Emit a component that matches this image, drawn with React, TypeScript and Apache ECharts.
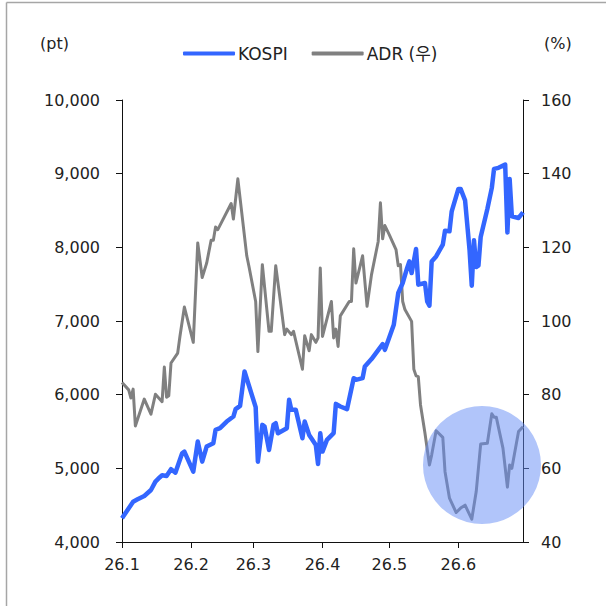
import React, { useEffect, useRef } from "react";
import * as echarts from "echarts";

// x positions are day offsets from 2026-01-01
const monthTickDays = [0, 31, 59, 90, 120, 151];
const monthTickLabels = ["26.1", "26.2", "26.3", "26.4", "26.5", "26.6"];

const kospiDays = [0, 5, 7, 10, 13, 15, 17, 18, 20, 22, 24, 27, 28, 32, 34, 36, 38, 41, 42, 44, 47, 50, 51, 53, 55, 60, 61, 63, 64, 66, 68, 69, 70, 74, 75, 76, 78, 81, 82, 84, 85, 87, 88, 89, 90, 92, 95, 96, 98, 101, 104, 105, 108, 109, 112, 117, 118, 122, 124, 126, 128, 129, 130, 132, 133, 136, 137, 138, 139, 141, 144, 145, 147, 148, 151, 152, 154, 156, 157, 158, 159, 160, 161, 164, 166, 167, 169, 172, 173, 174, 175, 178, 180];
const kospiValues = [4322, 4547, 4580, 4625, 4706, 4820, 4880, 4906, 4897, 4988, 4942, 5205, 5227, 4955, 5363, 5091, 5295, 5341, 5522, 5545, 5635, 5703, 5803, 5848, 6314, 5830, 5091, 5590, 5567, 5250, 5590, 5613, 5477, 5545, 5930, 5794, 5794, 5409, 5635, 5454, 5409, 5318, 5060, 5477, 5227, 5386, 5477, 5875, 5839, 5803, 6224, 6201, 6224, 6382, 6483, 6687, 6609, 6949, 7380, 7516, 7720, 7809, 7651, 7977, 7493, 7516, 7266, 7207, 7809, 7877, 8036, 8226, 8217, 8489, 8793, 8793, 8638, 7968, 7479, 8095, 7733, 7751, 8140, 8521, 8807, 9065, 9079, 9124, 8203, 8929, 8421, 8399, 8475];

const adrDays = [0, 3, 4, 5, 6, 10, 13, 15, 18, 19, 20, 21, 22, 25, 26, 28, 32, 34, 36, 38, 40, 41, 42, 43, 49, 50, 52, 56, 57, 60, 61, 63, 66, 67, 69, 71, 73, 74, 76, 77, 81, 82, 84, 85, 87, 88, 89, 90, 94, 95, 96, 97, 98, 102, 103, 104, 105, 108, 110, 112, 115, 116, 117, 118, 120, 123, 124, 125, 126, 127, 130, 131, 132, 133, 134, 136, 138, 139, 141, 144, 145, 147, 150, 152, 154, 157, 159, 161, 164, 166, 167, 168, 171, 173, 174, 175, 178, 180];
const adrValues = [83.3, 81.3, 79.1, 81.5, 71.5, 78.8, 74.7, 80.1, 78.1, 87.5, 79.3, 79.7, 88.6, 91.3, 95.8, 103.8, 94.2, 121.2, 111.8, 115.7, 121.9, 121.9, 125.5, 124.8, 131.9, 127.7, 138.6, 117.7, 114.8, 105.3, 91.7, 115.3, 97.2, 97.2, 115.0, 105.8, 96.3, 97.8, 96.3, 97.2, 86.9, 96.0, 91.9, 96.3, 94.2, 95.4, 114.4, 95.8, 105.3, 95.4, 97.8, 93.1, 101.4, 105.3, 105.3, 119.6, 110.3, 117.7, 104.0, 112.6, 121.6, 132.1, 122.3, 125.9, 123.4, 119.4, 115.0, 115.3, 105.3, 103.1, 99.9, 86.9, 85.1, 84.9, 77.2, 69.5, 60.9, 63.6, 70.2, 68.4, 59.1, 51.9, 48.0, 49.2, 50.0, 46.2, 53.7, 66.6, 66.8, 74.8, 73.9, 73.9, 65.5, 54.9, 60.9, 60.0, 70.0, 71.3];

const seriesNames = ["KOSPI", "ADR (우)"];
const unitLeft = "(pt)";
const unitRight = "(%)";

const FONT = "'DejaVu Sans', 'Noto Sans CJK KR', sans-serif";
const TEXT = "#222";

export default function App() {
  const ref = useRef<HTMLDivElement>(null);
  useEffect(() => {
    const chart = echarts.init(ref.current!, null, { renderer: "svg" });
    const axisLine = { show: true, lineStyle: { color: "#111", width: 1 } };
    const axisTick = { show: true, length: 6, lineStyle: { color: "#111", width: 1 } };
    chart.setOption({
      animation: false,
      backgroundColor: "#fff",
      textStyle: { fontFamily: FONT },
      grid: { left: 122, right: 83, top: 100, bottom: 64 },
      legend: {
        left: 178,
        top: 40,
        itemWidth: 52,
        itemHeight: 4,
        itemGap: 24,
        icon: "roundRect",
        textStyle: { fontFamily: FONT, fontSize: 17, color: TEXT, padding: [0, 0, 0, -2] },
        data: seriesNames,
      },
      xAxis: {
        type: "value",
        min: 0,
        max: 180,
        axisLine,
        axisTick: { ...axisTick, customValues: monthTickDays },
        splitLine: { show: false },
        axisLabel: {
          customValues: monthTickDays,
          margin: 14,
          fontSize: 16,
          color: TEXT,
          fontFamily: FONT,
          formatter: (v: number) => {
            const i = monthTickDays.indexOf(Math.round(v));
            return i >= 0 ? monthTickLabels[i] : "";
          },
        },
      },
      yAxis: [
        {
          type: "value",
          min: 4000,
          max: 10000,
          interval: 1000,
          position: "left",
          axisLine,
          axisTick,
          splitLine: { show: false },
          axisLabel: {
            margin: 22,
            fontSize: 16,
            color: TEXT,
            fontFamily: FONT,
            formatter: (v: number) => v.toLocaleString("en-US"),
          },
        },
        {
          type: "value",
          min: 40,
          max: 160,
          interval: 20,
          position: "right",
          axisLine,
          axisTick,
          splitLine: { show: false },
          axisLabel: { margin: 18, fontSize: 16, color: TEXT, fontFamily: FONT },
        },
      ],
      series: [
        {
          name: seriesNames[0],
          type: "line",
          yAxisIndex: 0,
          symbol: "none",
          lineStyle: { color: "#3366ff", width: 4.5, join: "round" },
          itemStyle: { color: "#3366ff" },
          data: kospiDays.map((d, i) => [d, kospiValues[i]]),
          z: 3,
        },
        {
          name: seriesNames[1],
          type: "line",
          yAxisIndex: 1,
          symbol: "none",
          lineStyle: { color: "#808080", width: 3, join: "round" },
          itemStyle: { color: "#808080" },
          data: adrDays.map((d, i) => [d, adrValues[i]]),
          z: 2,
        },
      ],
      graphic: [
        { type: "line", shape: { x1: 6.5, y1: 2.5, x2: 606, y2: 2.5 }, style: { stroke: "#a6a6a6", lineWidth: 1.5 }, silent: true },
        { type: "line", shape: { x1: 6.5, y1: 2.5, x2: 6.5, y2: 606 }, style: { stroke: "#a6a6a6", lineWidth: 1.5 }, silent: true },
        { type: "text", left: 40, top: 35, style: { text: unitLeft, fontSize: 16, fill: TEXT, fontFamily: FONT } },
        { type: "text", left: 544, top: 35, style: { text: unitRight, fontSize: 16, fill: TEXT, fontFamily: FONT } },
        {
          type: "circle",
          shape: { cx: 482, cy: 465, r: 59 },
          style: { fill: "rgba(100,140,245,0.5)" },
          z: 100,
          silent: true,
        },
      ],
    });
    return () => chart.dispose();
  }, []);
  return <div ref={ref} style={{ position: "fixed", left: 0, top: 0, width: 606, height: 606 }} />;
}
